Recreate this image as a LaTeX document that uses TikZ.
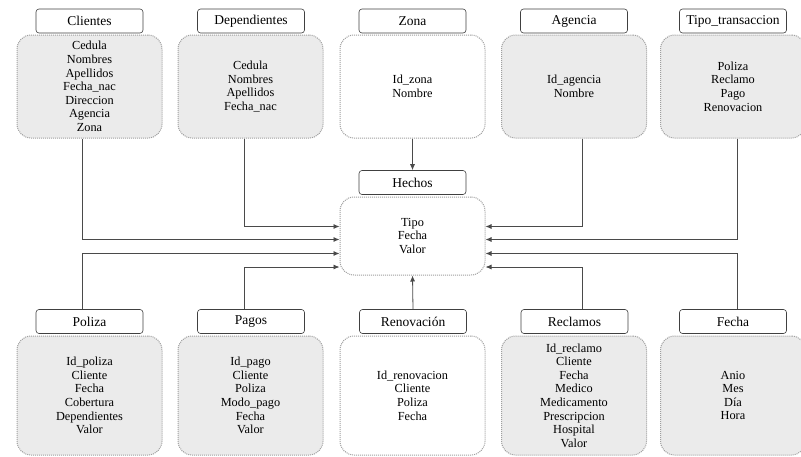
\documentclass[tikz,border=0pt]{standalone}
\usepackage{fontspec}
\setmainfont{Liberation Serif}
\usetikzlibrary{arrows.meta}
\definecolor{linegray}{HTML}{4A4A4A}
\definecolor{bodygray}{HTML}{EBEBEB}
\tikzset{
  titlebox/.style={draw=black!75, fill=white, rounded corners=3pt, line width=0.6pt,
    minimum width=107pt, minimum height=24pt, inner sep=0pt,
    font=\fontsize{13.5}{15}\selectfont},
  bodybox/.style={draw=gray!75, line width=1pt, densely dotted, rounded corners=14pt,
    minimum width=145pt, inner sep=0pt, align=center,
    font=\fontsize{12.3}{13.6}\selectfont},
  graybody/.style={bodybox, fill=bodygray},
  whitebody/.style={bodybox, fill=white},
  conn/.style={draw=linegray, line width=0.8pt, -{Latex[length=6pt,width=5pt]}},
}
\begin{document}
\begin{tikzpicture}[x=1pt,y=-1pt]
\useasboundingbox (0,0) rectangle (801,456);
% top row bodies
\node[graybody, minimum height=103pt] (cliB) at (89.5,86.5) {Cedula\\Nombres\\Apellidos\\Fecha\_nac\\Direccion\\Agencia\\Zona};
\node[graybody, minimum height=103pt] (depB) at (250.5,86.5) {Cedula\\Nombres\\Apellidos\\Fecha\_nac};
\node[whitebody, minimum height=103pt] (zonB) at (412.5,86.5) {Id\_zona\\Nombre};
\node[graybody, minimum height=103pt] (ageB) at (574,86.5) {Id\_agencia\\Nombre};
\node[graybody, minimum height=103pt] (tipB) at (733,86.5) {Poliza\\Reclamo\\Pago\\Renovacion};
% top row titles
\node[titlebox] (cliT) at (89.5,21) {Clientes};
\node[titlebox] (depT) at (251,21) {Dependientes};
\node[titlebox] (zonT) at (412.5,21) {Zona};
\node[titlebox] (ageT) at (574,21) {Agencia};
\node[titlebox] (tipT) at (733,21) {Tipo\_transaccion};
% Hechos
\node[whitebody, minimum height=78pt] (hecB) at (412.5,236) {Tipo\\Fecha\\Valor};
\node[titlebox] (hecT) at (412.5,182.5) {Hechos};
% bottom row bodies
\node[graybody, minimum height=119pt] (polB) at (89.5,395.5) {Id\_poliza\\Cliente\\Fecha\\Cobertura\\Dependientes\\Valor};
\node[graybody, minimum height=119pt] (pagB) at (250.5,395.5) {Id\_pago\\Cliente\\Poliza\\Modo\_pago\\Fecha\\Valor};
\node[whitebody, minimum height=119pt] (renB) at (412.5,395.5) {Id\_renovacion\\Cliente\\Poliza\\Fecha};
\node[graybody, minimum height=119pt] (recB) at (574,395.5) {Id\_reclamo\\Cliente\\Fecha\\Medico\\Medicamento\\Prescripcion\\Hospital\\Valor};
\node[graybody, minimum height=119pt] (fecB) at (733,395.5) {Anio\\Mes\\Día\\Hora};
% bottom row titles
\node[titlebox] (polT) at (89.5,321.5) {Poliza};
\node[titlebox] (pagT) at (251,321.5) {Pagos};
\node[titlebox] (renT) at (413,321.5) {Renovación};
\node[titlebox] (recT) at (574.5,321.5) {Reclamos};
\node[titlebox] (fecT) at (733,321.5) {Fecha};
% connectors
\draw[conn] (cliB.south -| 82,0) |- (hecB.west |- 0,239.5);
\draw[conn] (depB.south -| 244,0) |- (hecB.west |- 0,226.5);
\draw[conn] (polT.north -| 82,0) |- (hecB.west |- 0,253.5);
\draw[conn] (pagT.north -| 244,0) |- (hecB.west |- 0,267);
\draw[conn] (ageB.south -| 582,0) |- (hecB.east |- 0,226.5);
\draw[conn] (tipB.south -| 737,0) |- (hecB.east |- 0,239.5);
\draw[conn] (fecT.north -| 737,0) |- (hecB.east |- 0,253.5);
\draw[conn] (recT.north -| 582,0) |- (hecB.east |- 0,267);
\draw[conn] (zonB.south) -- (hecT.north);
\draw[conn] (renT.north) -- (hecB.south);
\end{tikzpicture}
\end{document}
